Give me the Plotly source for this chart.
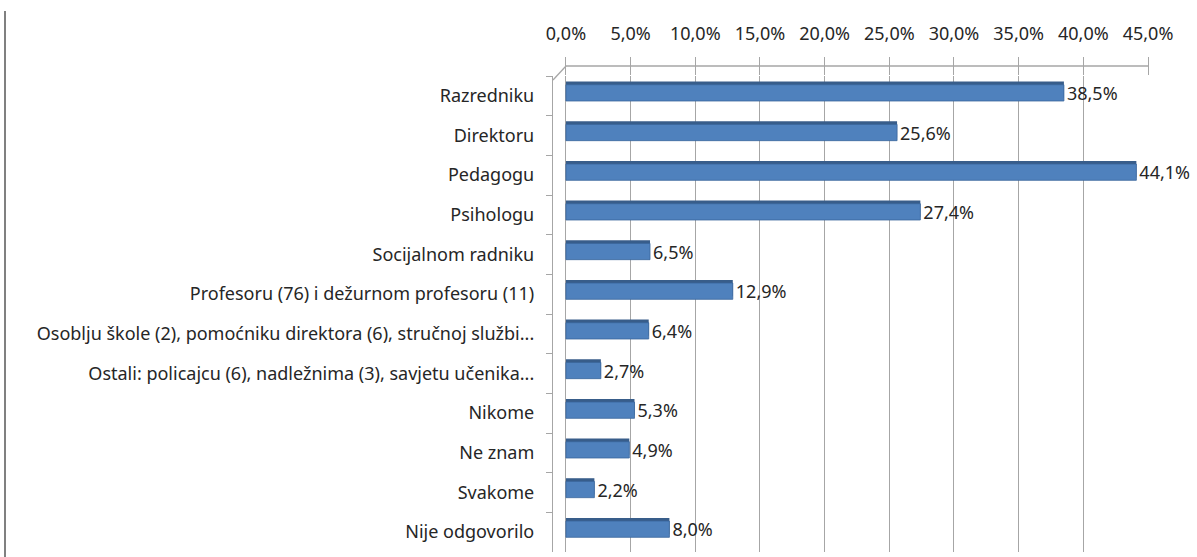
import plotly.graph_objects as go

categories = [
    "Razredniku",
    "Direktoru",
    "Pedagogu",
    "Psihologu",
    "Socijalnom radniku",
    "Profesoru (76) i dežurnom profesoru (11)",
    "Osoblju škole (2), pomoćniku direktora (6), stručnoj službi...",
    "Ostali: policajcu (6), nadležnima (3), savjetu učenika...",
    "Nikome",
    "Ne znam",
    "Svakome",
    "Nije odgovorilo",
]
values = [0.385, 0.256, 0.441, 0.274, 0.065, 0.129, 0.064, 0.027, 0.053, 0.049, 0.022, 0.080]
tick_vals = [0, 0.05, 0.10, 0.15, 0.20, 0.25, 0.30, 0.35, 0.40, 0.45]

labels = [f"{v*100:.1f}%".replace(".", ",") for v in values]

font = "Noto Sans"
W, H = 1197, 557
L, R, T, B = 553, 49, 76, 5
pw = W - L - R
ph = H - T - B

fig = go.Figure()
# darker "top face" of the 3D bars
fig.add_trace(go.Bar(
    y=categories,
    x=values,
    orientation="h",
    width=0.41,
    offset=-0.36,
    marker=dict(color="#385D8A", line=dict(width=0)),
    hoverinfo="skip",
))
# front face
fig.add_trace(go.Bar(
    y=categories,
    x=values,
    orientation="h",
    width=0.41,
    offset=-0.28,
    marker=dict(color="#4F81BD", line=dict(color="#3A669C", width=0.8)),
    text=labels,
    textposition="outside",
    constraintext="none",
    textfont=dict(family=font, size=18, color="#262626"),
    cliponaxis=False,
    hoverinfo="skip",
))

fig.update_layout(
    width=W,
    height=H,
    barmode="overlay",
    separators=",.",
    paper_bgcolor="white",
    plot_bgcolor="white",
    showlegend=False,
    margin=dict(l=L, r=R, t=T, b=B, autoexpand=False),
    font=dict(family=font, size=18, color="#262626"),
    xaxis=dict(
        side="top",
        range=[-0.01, 0.45],
        tickvals=tick_vals,
        tickformat=".1%",
        showgrid=True,
        gridcolor="#A6A6A6",
        gridwidth=1.3,
        zeroline=False,
        showline=False,
        ticks="outside",
        ticklen=18,
        tickwidth=1.3,
        tickcolor="#A6A6A6",
        automargin=False,
        ticklabelstandoff=10,
        tickfont=dict(family=font, size=18, color="#262626"),
    ),
    yaxis=dict(
        autorange="reversed",
        showline=True,
        linecolor="#A6A6A6",
        linewidth=1.3,
        ticks="outside",
        tickson="boundaries",
        ticklen=6,
        tickwidth=1.3,
        tickcolor="#A6A6A6",
        showgrid=False,
        automargin=False,
        tickfont=dict(family=font, size=18, color="#262626"),
        ticklabelstandoff=14,
    ),
    shapes=[
        # left frame line of the picture
        dict(type="line", xref="paper", yref="paper",
             x0=(5 - L) / pw, x1=(5 - L) / pw, y0=-B / ph, y1=(H - 11 - B) / ph,
             line=dict(color="#808080", width=2)),
        # top edge of the back wall
        dict(type="line", xref="x", yref="paper",
             x0=0, x1=0.45, y0=1 + 10 / ph, y1=1 + 10 / ph,
             line=dict(color="#A6A6A6", width=1.3)),
        # 3D corner connecting wall to axis
        dict(type="line", xref="paper", yref="paper",
             x0=0, x1=13 / pw, y0=1 - 4 / ph, y1=1 + 10 / ph,
             line=dict(color="#A6A6A6", width=1.3)),
    ],
)

fig.write_html("out.html", post_script="document.body.style.margin='0';",
               config={"displayModeBar": False})
